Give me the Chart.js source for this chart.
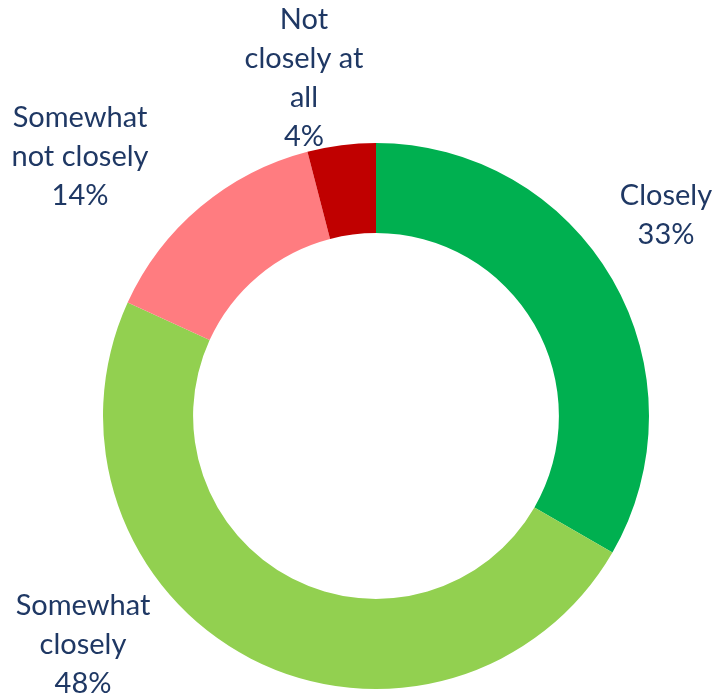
<!DOCTYPE html>
<html>
<head>
<meta charset="utf-8">
<script src="https://cdn.jsdelivr.net/npm/chart.js@4.4.1/dist/chart.umd.min.js"></script>
<style>
    html, body { margin: 0; padding: 0; background: #ffffff; }
    #wrap { width: 712px; height: 698px; position: relative; }
</style>
</head>
<body>
<div id="wrap"><canvas id="pieChart" width="712" height="698"></canvas></div>
<script>
// Data
const categories = ['Closely', 'Somewhat closely', 'Somewhat not closely', 'Not closely at all'];
const shares = [33, 48, 14, 4];
const labelLines = [
    ['Closely'],
    ['Somewhat', 'closely'],
    ['Somewhat', 'not closely'],
    ['Not', 'closely at', 'all']
];
const sliceColors = ['#00b050', '#92d050', '#ff7c80', '#c00000'];

// where each label block sits, relative to the chart centre (layout only)
const labelOffsets = [
    { x: 290, y: -201 },
    { x: -293, y: 229 },
    { x: -296, y: -259 },
    { x: -72, y: -338 }
];

// Draws the multi-line labels outside the ring
const outsideLabels = {
    id: 'outsideLabels',
    afterDraw(chart) {
        const ctx = chart.ctx;
        const meta = chart.getDatasetMeta(0);
        const lineHeight = 39;
        ctx.save();
        ctx.font = '29px Lato, "Open Sans", sans-serif';
        ctx.fillStyle = '#1f3864';
        ctx.textAlign = 'center';
        ctx.textBaseline = 'middle';
        meta.data.forEach((arc, i) => {
            const lines = labelLines[i].concat([shares[i] + '%']);
            const cx = arc.x + labelOffsets[i].x;
            const cy = arc.y + labelOffsets[i].y;
            const top = cy - (lines.length - 1) * lineHeight / 2;
            lines.forEach((txt, k) => {
                ctx.fillText(txt, cx, top + k * lineHeight);
            });
        });
        ctx.restore();
    }
};

function createDoughnut() {
    const chartData = {
        labels: categories,
        datasets: [{
            data: shares,
            backgroundColor: sliceColors,
            borderWidth: 0
        }]
    };

    const chartConfig = {
        type: 'doughnut',
        data: chartData,
        options: {
            responsive: false,
            animation: false,
            cutout: '67%',
            layout: {
                padding: { left: 103, right: 63, top: 143, bottom: 9 }
            },
            plugins: {
                legend: { display: false },
                tooltip: { enabled: false }
            }
        },
        plugins: [outsideLabels]
    };

    const ctx = document.getElementById('pieChart').getContext('2d');
    new Chart(ctx, chartConfig);
}

createDoughnut();
</script>
</body>
</html>
